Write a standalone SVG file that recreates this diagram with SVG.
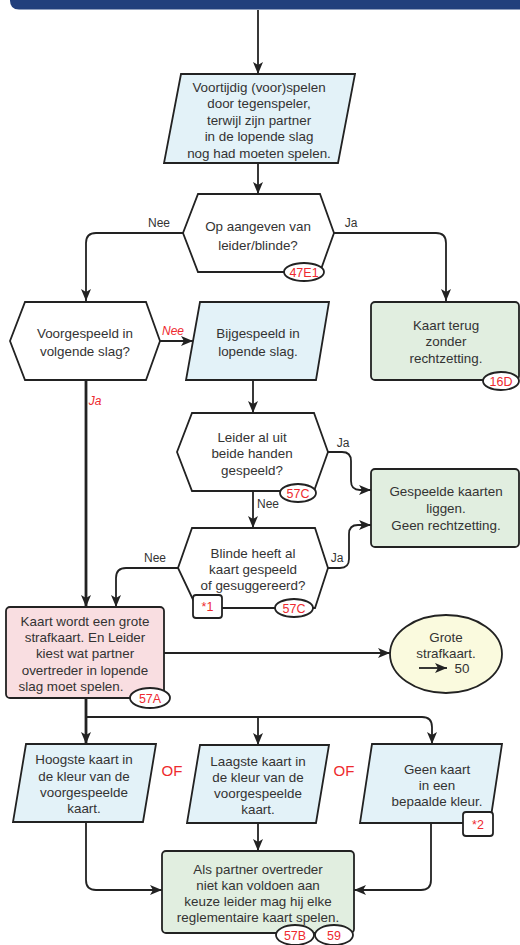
<svg xmlns="http://www.w3.org/2000/svg" width="520" height="945" viewBox="0 0 520 945">
<style>
text{font-family:"Liberation Sans",Arial,sans-serif;fill:#333;}
.t{font-size:13.4px;text-anchor:middle;}
.lb{font-size:12px;text-anchor:middle;}
.rl{font-size:12px;text-anchor:middle;fill:#ee2a2f;font-style:italic;}
.bt{font-size:12.5px;text-anchor:middle;fill:#ee2a2f;}
.of{font-size:15px;text-anchor:middle;fill:#ee2a2f;}
.hex{fill:#fff;stroke:#222;stroke-width:1.8;}
.par{fill:#e3f2f8;stroke:#222;stroke-width:1.8;}
.grn{fill:#e1eee0;stroke:#222;stroke-width:1.8;}
.pnk{fill:#f9dee1;stroke:#222;stroke-width:1.8;}
.yel{fill:#fafade;stroke:#222;stroke-width:1.8;}
.bd{fill:#fff;stroke:#222;stroke-width:1.8;}
.c{fill:none;stroke:#222;stroke-width:1.8;marker-end:url(#ah);}
.ck{fill:none;stroke:#222;stroke-width:2.8;marker-end:url(#ah);}
</style>
<defs>
<marker id="ah" markerUnits="userSpaceOnUse" markerWidth="12" markerHeight="10" viewBox="0 0 12 10" refX="12" refY="5" orient="auto">
<path d="M0,0 L12,5 L0,10 L3,5 z" fill="#222"/>
</marker>
</defs>
<path id="header" d="M10,0 H520 V9.5 H19 Q10,9.5 10,0.5 z" fill="#22407c"/>
<g id="connectors">
<path class="c" d="M258,10 V74"/>
<path class="c" d="M258,163 V194"/>
<path class="c" d="M183,233 H96 Q86,233 86,243 V301"/>
<path class="c" d="M334,233 H436 Q446,233 446,243 V301"/>
<path class="c" d="M160,341 H193"/>
<path class="c" d="M253,380 V413"/>
<path class="c" d="M328,452 H342 Q351,452 351,461 V481 Q351,490 360,490 H371"/>
<path class="c" d="M253,491 V528"/>
<path class="c" d="M328,568 H340 Q349,568 349,559 V534 Q349,525 358,525 H371"/>
<path class="c" d="M178,568 H126 Q116,568 116,578 V607"/>
<path class="ck" d="M86,380 V607"/>
<path class="c" d="M164,653 H390"/>
<path class="ck" d="M86,698 V744"/>
<path class="c" d="M86,717 H422 Q432,717 432,727 V744"/>
<path class="c" d="M258,717 V745"/>
<path class="c" d="M86,822 V880 Q86,890 96,890 H162"/>
<path class="c" d="M258,823 V851"/>
<path class="c" d="M431,823 V880 Q431,890 421,890 H354"/>
<text class="lb" x="159" y="227">Nee</text>
<text class="lb" x="351" y="227">Ja</text>
<text class="rl" x="173" y="335">Nee</text>
<text class="rl" x="95" y="405">Ja</text>
<text class="lb" x="343" y="447">Ja</text>
<text class="lb" x="268" y="508">Nee</text>
<text class="lb" x="155" y="562">Nee</text>
<text class="lb" x="337" y="562">Ja</text>
<text class="of" x="172" y="776">OF</text>
<text class="of" x="344" y="776">OF</text>
</g>
<g id="n1">
<polygon class="par" points="181,74 355,74 338,163 164,163"/>
<text class="t" x="259" y="91.5">Voortijdig (voor)spelen</text>
<text class="t" x="259" y="108">door tegenspeler,</text>
<text class="t" x="259" y="124.5">terwijl zijn partner</text>
<text class="t" x="259" y="141">in de lopende slag</text>
<text class="t" x="259" y="157.5">nog had moeten spelen.</text>
</g>
<g id="n2">
<polygon class="hex" points="198,194 320,194 334,233 320,272 198,272 183,233"/>
<text class="t" x="258" y="230.5">Op aangeven van</text>
<text class="t" x="258" y="249.5">leider/blinde?</text>
<ellipse class="bd" cx="304" cy="272" rx="20" ry="9"/>
<text class="bt" x="304" y="276.5">47E1</text>
</g>
<g id="n3">
<polygon class="hex" points="25,302 146,302 160,341 146,380 25,380 10,341"/>
<text class="t" x="85" y="338">Voorgespeeld in</text>
<text class="t" x="85" y="356">volgende slag?</text>
</g>
<g id="n4">
<polygon class="par" points="200,302 329,302 316,380 186,380"/>
<text class="t" x="258" y="338">Bijgespeeld in</text>
<text class="t" x="258" y="356">lopende slag.</text>
</g>
<g id="n5">
<rect class="grn" x="371" y="302" width="148" height="78" rx="4"/>
<text class="t" x="446" y="329.5">Kaart terug</text>
<text class="t" x="446" y="346">zonder</text>
<text class="t" x="446" y="363">rechtzetting.</text>
<ellipse class="bd" cx="501" cy="381" rx="18" ry="9"/>
<text class="bt" x="501" y="385.5">16D</text>
</g>
<g id="n6">
<polygon class="hex" points="192,413 314,413 328,452 314,491 192,491 177,452"/>
<text class="t" x="252" y="442">Leider al uit</text>
<text class="t" x="252" y="458">beide handen</text>
<text class="t" x="252" y="474.5">gespeeld?</text>
<ellipse class="bd" cx="298" cy="493" rx="18" ry="9"/>
<text class="bt" x="298" y="497.5">57C</text>
</g>
<g id="n7">
<rect class="grn" x="371" y="469" width="148" height="78" rx="4"/>
<text class="t" x="446" y="496">Gespeelde kaarten</text>
<text class="t" x="446" y="512.8">liggen.</text>
<text class="t" x="446" y="529.5">Geen rechtzetting.</text>
</g>
<g id="n8">
<polygon class="hex" points="192,528 315,528 328,568 315,608 197,608 178,568"/>
<text class="t" x="253" y="557.8">Blinde heeft al</text>
<text class="t" x="253" y="573.8">kaart gespeeld</text>
<text class="t" x="253" y="589.5">of gesuggereerd?</text>
<rect class="bd" x="193" y="595" width="29" height="23" rx="3"/>
<text class="bt" x="207.5" y="611">*1</text>
<ellipse class="bd" cx="294" cy="608" rx="19" ry="9"/>
<text class="bt" x="294" y="612.5">57C</text>
</g>
<g id="n9">
<rect class="pnk" x="6" y="607" width="158" height="91" rx="4"/>
<text class="t" x="85" y="625.5">Kaart wordt een grote</text>
<text class="t" x="85" y="642">strafkaart. En Leider</text>
<text class="t" x="85" y="658">kiest wat partner</text>
<text class="t" x="85" y="674.5">overtreder in lopende</text>
<text class="t" x="71" y="690.5">slag moet spelen.</text>
<ellipse class="bd" cx="150" cy="698" rx="20" ry="10"/>
<text class="bt" x="150" y="702.5">57A</text>
</g>
<g id="n10">
<ellipse class="yel" cx="446" cy="654" rx="56" ry="39"/>
<text class="t" x="446" y="642">Grote</text>
<text class="t" x="446" y="658">strafkaart.</text>
<path class="c" d="M419,668 H447"/>
<text class="t" x="462" y="673">50</text>
</g>
<g id="n11">
<polygon class="par" points="26,744 156,744 143,822 13,822"/>
<text class="t" x="84" y="764">Hoogste kaart in</text>
<text class="t" x="84" y="780.5">de kleur van de</text>
<text class="t" x="84" y="796.5">voorgespeelde</text>
<text class="t" x="84" y="813">kaart.</text>
</g>
<g id="n12">
<polygon class="par" points="200,745 329,745 316,823 187,823"/>
<text class="t" x="258" y="765.5">Laagste kaart in</text>
<text class="t" x="258" y="782">de kleur van de</text>
<text class="t" x="258" y="798">voorgespeelde</text>
<text class="t" x="258" y="814">kaart.</text>
</g>
<g id="n13">
<polygon class="par" points="372,744 502,744 490,823 360,823"/>
<text class="t" x="437" y="774">Geen kaart</text>
<text class="t" x="437" y="790">in een</text>
<text class="t" x="437" y="805.5">bepaalde kleur.</text>
<rect class="bd" x="463" y="812" width="30" height="24" rx="3"/>
<text class="bt" x="478" y="828.5">*2</text>
</g>
<g id="n14">
<rect class="grn" x="162" y="851" width="192" height="82" rx="4"/>
<text class="t" x="258" y="874">Als partner overtreder</text>
<text class="t" x="258" y="890">niet kan voldoen aan</text>
<text class="t" x="258" y="906">keuze leider mag hij elke</text>
<text class="t" x="258" y="922">reglementaire kaart spelen.</text>
<ellipse class="bd" cx="295" cy="935" rx="19" ry="10"/>
<text class="bt" x="295" y="939.5">57B</text>
<ellipse class="bd" cx="334" cy="935" rx="19" ry="10"/>
<text class="bt" x="334" y="939.5">59</text>
</g>
</svg>
